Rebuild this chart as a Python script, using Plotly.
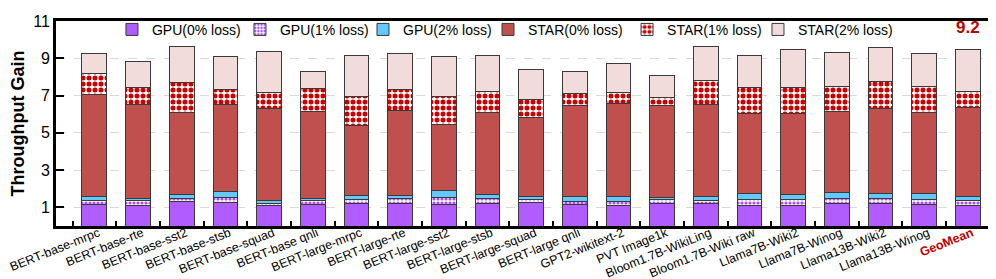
import plotly.graph_objects as go

categories = ["BERT-base-mrpc", "BERT-base-rte", "BERT-base-sst2", "BERT-base-stsb",
              "BERT-base-squad", "BERT-base qnli", "BERT-large-mrpc", "BERT-large-rte",
              "BERT-large-sst2", "BERT-large-stsb", "BERT-large-squad", "BERT-large qnli",
              "GPT2-wikitext-2", "PVT Image1k", "Bloom1.7B-WikiLing", "Bloom1.7B-Wiki raw",
              "Llama7B-Wiki2", "Llama7B-Winog", "Llama13B-Wiki2", "Llama13B-Winog", "GeoMean"]

# cumulative throughput gain for each configuration
gpu_0 = [1.17, 1.12, 1.30, 1.25, 1.10, 1.14, 1.23, 1.23, 1.18, 1.19, 1.26, 1.17, 1.12, 1.23,
         1.23, 1.12, 1.10, 1.19, 1.19, 1.16, 1.10]
gpu_1 = [1.38, 1.35, 1.50, 1.52, 1.23, 1.35, 1.43, 1.48, 1.54, 1.48, 1.40, 1.33, 1.30, 1.40,
         1.38, 1.42, 1.42, 1.47, 1.45, 1.43, 1.36]
gpu_2 = [1.56, 1.45, 1.69, 1.87, 1.35, 1.50, 1.66, 1.66, 1.92, 1.69, 1.61, 1.56, 1.56, 1.54,
         1.56, 1.73, 1.71, 1.78, 1.76, 1.76, 1.61]
star_0 = [7.05, 6.53, 6.11, 6.51, 6.30, 6.16, 5.40, 6.22, 5.47, 6.11, 5.80, 6.49, 6.55, 6.48,
          6.53, 6.06, 6.06, 6.13, 6.32, 6.11, 6.34]
star_1 = [8.18, 7.45, 7.68, 7.35, 7.16, 7.40, 6.96, 7.31, 6.93, 7.24, 6.81, 7.09, 7.14, 6.91,
          7.82, 7.43, 7.42, 7.50, 7.78, 7.47, 7.22]
star_2 = [9.24, 8.82, 9.61, 9.12, 9.35, 8.28, 9.14, 9.26, 9.12, 9.16, 8.41, 8.30, 8.74, 8.09,
          9.61, 9.16, 9.45, 9.30, 9.57, 9.26, 9.45]

series_names = ["GPU(0% loss)", "GPU(1% loss)", "GPU(2% loss)",
                "STAR(0% loss)", "STAR(1% loss)", "STAR(2% loss)"]
geomean_label = "9.2"
y_ticks = [1, 3, 5, 7, 9, 11]

tick_text = categories[:-1] + ["<b><span style='color:#C00000'>GeoMean</span></b>"]

levels = [gpu_0, gpu_1, gpu_2, star_0, star_1, star_2]
styles = [
    dict(color="#B05CFF"),
    dict(color="#FFFFFF", pattern=dict(shape=".", fgcolor="#A64DFF", bgcolor="#FFFFFF",
                                       size=4, solidity=0.5, fillmode="replace")),
    dict(color="#62C8FF"),
    dict(color="#C0504D"),
    dict(color="#FFFFFF", pattern=dict(shape=".", fgcolor="#CC0000", bgcolor="#FFFFFF",
                                       size=6, solidity=0.55, fillmode="replace")),
    dict(color="#F2DCDB"),
]
legend_x = [0.0594, 0.1953, 0.3259, 0.4586, 0.6062, 0.7452]

fig = go.Figure()
prev = [0.0] * len(categories)
legend_layout = {}
for i, (name, lev, st) in enumerate(zip(series_names, levels, styles)):
    inc = [round(a - b, 4) for a, b in zip(lev, prev)]
    marker = dict(st)
    marker["line"] = dict(color="#3A3A3A", width=1)
    lg = "legend" if i == 0 else "legend%d" % (i + 1)
    fig.add_trace(go.Bar(x=categories, y=inc, name=name, marker=marker, legend=lg))
    legend_layout[lg] = dict(orientation="h", x=legend_x[i], y=1.035, xanchor="left",
                             yanchor="top", bgcolor="rgba(0,0,0,0)", font=dict(size=14))
    prev = lev

fig.add_annotation(x=categories[-1], y=star_2[-1], text="<b>" + geomean_label + "</b>",
                   showarrow=False, yanchor="bottom", yshift=11,
                   font=dict(family="Liberation Sans, Arial", size=17, color="#C00000"))

fig.update_layout(
    width=996, height=279,
    barmode="stack", bargap=0.43,
    paper_bgcolor="white", plot_bgcolor="white",
    margin=dict(l=48, r=6, t=7, b=61),
    font=dict(family="Liberation Sans, Arial", color="black"),
    showlegend=True,
    **legend_layout,
)
fig.update_xaxes(
    range=[-0.88, 20.69], tickmode="array", tickvals=categories, ticktext=tick_text,
    tickangle=-22, tickfont=dict(size=12.5), tickson="boundaries",
    ticklabelstandoff=-8, ticklabelshift=4,
    ticks="inside", ticklen=5, tickwidth=1.5, tickcolor="black",
    showline=True, linecolor="black", linewidth=3, mirror=True, automargin=False,
)
fig.update_yaxes(
    range=[0, 11], tickvals=y_ticks, tickfont=dict(size=16, family="Liberation Sans, Arial"),
    tickprefix="<b>", ticksuffix="</b>",
    ticks="inside", ticklen=8, tickwidth=2, tickcolor="black",
    showline=True, linecolor="black", linewidth=3, mirror="ticks",
    showgrid=True, gridcolor="#D9D9D9", gridwidth=1, griddash="dash",
    title=dict(text="<b>Throughput Gain</b>", font=dict(size=18), standoff=4),
    automargin=False,
)

fig.write_html("out.html")
